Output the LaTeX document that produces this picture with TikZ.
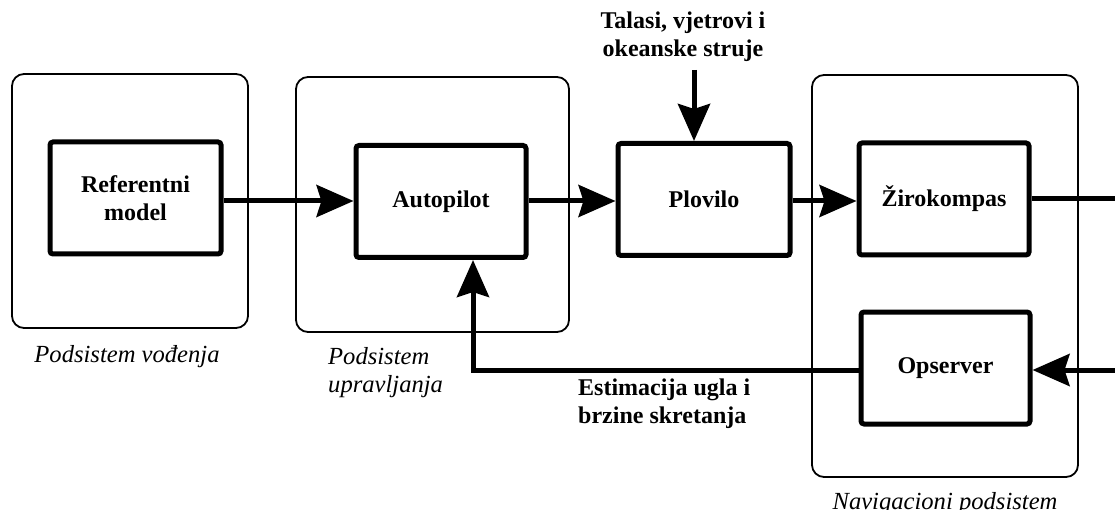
\documentclass[tikz,border=0pt]{standalone}
\usepackage{fontspec}
\setmainfont{Liberation Serif}
\usetikzlibrary{arrows.meta,positioning}
\tikzset{
  subsys/.style={draw,line width=1.8pt,rounded corners=12pt,inner sep=0pt},
  block/.style={draw,line width=5pt,rounded corners=3pt,minimum width=168pt,minimum height=112pt,
    align=center,font=\bfseries\fontsize{24}{28}\selectfont},
  tag/.style={font=\itshape\fontsize{24.6}{28.5}\selectfont,align=left,inner sep=0pt},
  note/.style={font=\bfseries\fontsize{24}{28}\selectfont,align=left,inner sep=0pt},
  flow/.style={line width=5pt,-{Stealth[length=37pt,width=32pt,inset=5pt]}},
  wire/.style={line width=5pt}
}
\begin{document}
\begin{tikzpicture}[x=1pt,y=-1pt]
    \useasboundingbox[fill=white] (0,0) rectangle (1115,510);
    % podsistemi
    \node[subsys,minimum width=236pt,minimum height=254pt] (vodj) at (130,201) {};
    \node[subsys,minimum width=273pt,minimum height=255pt] (uprav) at (432.5,204.5) {};
    \node[subsys,minimum width=266pt,minimum height=402pt] (nav) at (945,276) {};
    % blokovi
    \node[block,minimum width=171pt] (ref) at (135.5,198) {Referentni\\model};
    \node[block,minimum width=170pt] (auto) at (441,201.5) {Autopilot};
    \node[block,minimum width=172pt] (plov) at (704,199.5) {Plovilo};
    \node[block,minimum width=170pt] (ziro) at (944,199) {Žirokompas};
    \node[block,minimum width=169pt] (ops) at (945.5,368) {Opserver};
    % tekstovi
    \node[note,align=center] (dist) at (683,37) {Talasi, vjetrovi i\\okeanske struje};
    \node[note,anchor=north west] (est) at (578,379) {Estimacija ugla i\\brzine skretanja};
    \node[tag,anchor=north] (tvodj) at (127,345) {Podsistem vođenja};
    \node[tag,anchor=north west] (tuprav) at (328,347) {Podsistem\\upravljanja};
    \node[tag,anchor=north] (tnav) at (945,492) {Navigacioni podsistem};
    % veze
    \coordinate (izlaz) at (1115,199);
    \coordinate (ulaz) at (1115,370);
    \coordinate (smetnja) at (694,70);
    \coordinate (povrat) at (473,370);
    \draw[flow] (ref.east |- 0,201) -- (auto.west |- 0,201);
    \draw[flow] (auto.east |- 0,201) -- (plov.west |- 0,201);
    \draw[flow] (plov.east |- 0,201) -- (ziro.west |- 0,201);
    \draw[wire] (ziro.east) -- (izlaz);
    \draw[flow] (ulaz) -- (ops.east |- ulaz);
    \draw[flow] (smetnja) -- (smetnja |- plov.north);
    \draw[flow] (ops.west |- povrat) -- (povrat) -- (povrat |- auto.south);
\end{tikzpicture}
\end{document}
